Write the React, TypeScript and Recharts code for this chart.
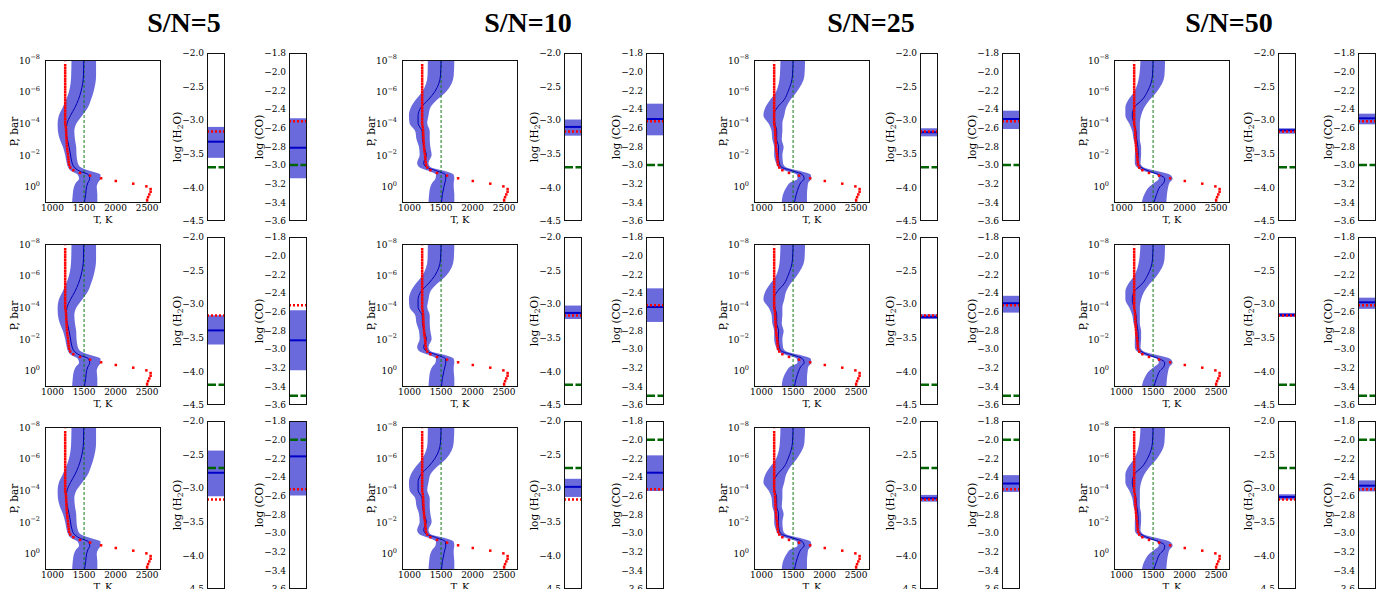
import React from "react";
import { ComposedChart, Area, Line, Scatter, XAxis, YAxis, ReferenceLine } from "recharts";

const SERIF = "'DejaVu Serif', serif";
const BAND = "#6a6adc";

const snLabels = ["S/N=5", "S/N=10", "S/N=25", "S/N=50"];
const titleX = [184, 528, 871, 1229];

// frame positions of the panels (px)
const tpLeft = [45, 402, 754, 1114];
const h2oLeft = [207, 564, 920, 1278];
const coLeft = [289, 646, 1002, 1358];
const tpTop = [60, 244, 427];
const barTop = [53, 237, 421];
const TP_W = 116;
const TP_H = 143;
const BAR_W = 18;
const BAR_H = 168;

// retrieved T-P profiles: log10(P / bar) levels and temperatures (K)
const pLevels = [-8, -7, -6, -5.5, -5, -4.5, -4, -3.5, -3, -2.5, -2, -1.5, -1.25, -1, -0.75, -0.5, -0.25, 0, 0.5, 1.03];

const medT5 = [1495, 1490, 1450, 1410, 1355, 1285, 1230, 1215, 1235, 1262, 1285, 1310, 1340, 1420, 1570, 1590, 1560, 1540, 1525, 1505];
const lowT5 = [1300, 1295, 1260, 1215, 1160, 1100, 1080, 1085, 1115, 1165, 1200, 1225, 1245, 1290, 1400, 1420, 1370, 1340, 1320, 1310];
const highT5 = [1690, 1690, 1650, 1610, 1560, 1470, 1380, 1345, 1355, 1375, 1380, 1400, 1440, 1590, 1760, 1760, 1720, 1700, 1710, 1710];

const medT10 = [1500, 1490, 1400, 1300, 1180, 1135, 1135, 1200, 1205, 1230, 1265, 1225, 1260, 1430, 1570, 1575, 1560, 1545, 1520, 1505];
const lowT10 = [1290, 1285, 1200, 1100, 1020, 990, 1000, 1090, 1110, 1150, 1160, 1120, 1150, 1300, 1420, 1410, 1360, 1330, 1310, 1300];
const highT10 = [1710, 1700, 1580, 1440, 1330, 1300, 1280, 1320, 1320, 1330, 1350, 1300, 1330, 1550, 1700, 1710, 1700, 1700, 1710, 1710];

const medT25 = [1500, 1490, 1420, 1360, 1250, 1190, 1210, 1240, 1240, 1270, 1265, 1280, 1310, 1490, 1650, 1675, 1620, 1590, 1550, 1520];
const lowT25 = [1300, 1290, 1230, 1140, 1060, 1030, 1110, 1160, 1170, 1200, 1200, 1230, 1260, 1380, 1560, 1570, 1450, 1400, 1340, 1320];
const highT25 = [1690, 1680, 1560, 1460, 1390, 1360, 1330, 1330, 1320, 1350, 1330, 1340, 1380, 1600, 1780, 1790, 1740, 1730, 1720, 1720];

const medT50 = [1500, 1490, 1410, 1330, 1200, 1170, 1195, 1230, 1240, 1260, 1265, 1255, 1300, 1420, 1600, 1685, 1670, 1610, 1555, 1510];
const lowT50 = [1300, 1280, 1200, 1110, 1060, 1060, 1120, 1170, 1190, 1220, 1210, 1210, 1240, 1340, 1560, 1590, 1520, 1440, 1360, 1320];
const highT50 = [1690, 1680, 1560, 1450, 1360, 1310, 1290, 1290, 1290, 1310, 1310, 1300, 1340, 1550, 1770, 1810, 1760, 1740, 1720, 1710];

const medT = [medT5, medT10, medT25, medT50];
const lowT = [lowT5, lowT10, lowT25, lowT50];
const highT = [highT5, highT10, highT25, highT50];

// true profile (red squares)
const trueLogP = [
  -8.0, -7.67, -7.5, -7.33, -7.16, -6.99, -6.82, -6.65, -6.48, -6.31, -6.14, -5.97, -5.8, -5.63, -5.46, -5.29,
  -5.12, -4.95, -4.78, -4.61, -4.44, -4.27, -4.1, -3.93, -3.76, -3.59, -3.42, -3.25, -3.08, -2.91, -2.74, -2.57,
  -2.4, -2.23, -2.06, -1.89, -1.72, -1.55, -1.38, -1.21, -1.04, -0.87, -0.7, -0.53, -0.36, -0.19, -0.02, 0.15,
  0.32, 0.49, 0.66, 0.83, 1.0,
];
const trueT = [
  1200, 1200, 1200, 1200, 1200, 1200, 1200, 1200, 1200, 1200, 1200, 1200, 1200, 1200, 1200, 1200,
  1200, 1200, 1200, 1200, 1200, 1200, 1200, 1201, 1210, 1214, 1216, 1218, 1220, 1222, 1226, 1228,
  1232, 1236, 1244, 1248, 1252, 1256, 1262, 1280, 1330, 1435, 1595, 1770, 2003, 2280, 2488, 2555,
  2555, 2535, 2515, 2500, 2500,
];

// abundance panels, rows x columns (log mixing ratio)
const h2oMed = [[-3.32, -3.10, -3.18, -3.15], [-3.39, -3.13, -3.19, -3.16], [-2.77, -2.98, -3.15, -3.13]];
const h2oLow = [[-3.56, -3.23, -3.24, -3.20], [-3.60, -3.22, -3.22, -3.19], [-3.12, -3.13, -3.20, -3.17]];
const h2oHigh = [[-3.10, -2.99, -3.12, -3.12], [-3.165, -3.02, -3.15, -3.13], [-2.44, -2.86, -3.10, -3.09]];
const h2oGuess = [-3.7, -4.2, -2.7];
const H2O_TRUE = -3.17;

const coMed = [[-2.815, -2.507, -2.507, -2.5], [-2.907, -2.55, -2.51, -2.5], [-2.179, -2.354, -2.47, -2.493]];
const coLow = [[-3.143, -2.682, -2.614, -2.564], [-3.229, -2.71, -2.61, -2.57], [-2.597, -2.55, -2.56, -2.554]];
const coHigh = [[-2.5, -2.343, -2.418, -2.45], [-2.586, -2.35, -2.43, -2.45], [-1.8, -2.168, -2.38, -2.436]];
const coGuess = [-3.0, -3.5, -2.0];
const CO_TRUE = -2.53;

const tTicks = [1000, 1500, 2000, 2500];
const pTicks = [-8, -6, -4, -2, 0];
const h2oTicks = [-4.5, -4.0, -3.5, -3.0, -2.5, -2.0];
const coTicks = [-3.6, -3.4, -3.2, -3.0, -2.8, -2.6, -2.4, -2.2, -2.0, -1.8];

const fmt = (v: number) => (v < 0 ? "\u2212" : "") + Math.abs(v).toFixed(1);

const frameStyle = (x: number, y: number, w: number, h: number): React.CSSProperties => ({
  position: "absolute",
  left: x,
  top: y,
  width: w,
  height: h,
  border: "1px solid #111",
  boxSizing: "border-box",
  pointerEvents: "none",
});

function PowTick(props: any) {
  const { x, y, payload } = props;
  const e = Math.round(payload.value);
  const exp = e < 0 ? "\u2212" + Math.abs(e) : String(e);
  return (
    <text x={x} y={y} dy={3.5} textAnchor="end" fontSize={9} fontFamily={SERIF} fill="#000">
      10
      <tspan dy={-4.5} fontSize={6.5}>
        {exp}
      </tspan>
    </text>
  );
}

function VLabel(props: any) {
  const { viewBox, shift, text, sub, tail } = props;
  if (!viewBox) return null;
  const cx = viewBox.x + shift;
  const cy = viewBox.y + viewBox.height / 2;
  return (
    <text
      x={cx}
      y={cy}
      transform={`rotate(-90, ${cx}, ${cy})`}
      textAnchor="middle"
      dy={3.5}
      fontSize={10.5}
      fontFamily={SERIF}
      fill="#000"
    >
      {text}
      {sub ? (
        <>
          <tspan dy={2.5} fontSize={7.5}>
            {sub}
          </tspan>
          <tspan dy={-2.5}>{tail}</tspan>
        </>
      ) : null}
    </text>
  );
}

function HLabel(props: any) {
  const { viewBox, text } = props;
  if (!viewBox) return null;
  return (
    <text
      x={viewBox.x + viewBox.width / 2}
      y={viewBox.y + 20}
      textAnchor="middle"
      fontSize={10}
      fontFamily={SERIF}
      fill="#000"
    >
      {text}
    </text>
  );
}

const RedSquare = (props: any) => {
  const { cx, cy } = props;
  if (cx == null || cy == null) return <g />;
  return <rect x={cx - 1.25} y={cy - 1.25} width={2.5} height={2.5} fill="#ff0000" />;
};

const TP_AX = 40;
const TP_MT = 6;
const TP_MR = 6;
const TP_XH = 26;

function TPPanel({ row, col }: { row: number; col: number }) {
  const data = pLevels.map((lp, i) => ({
    lp,
    med: medT[col][i],
    band: [lowT[col][i], highT[col][i]],
  }));
  const truth = trueLogP.map((lp, i) => ({ lp, T: trueT[i] }));
  return (
    <div style={{ position: "absolute", left: tpLeft[col] - TP_AX, top: tpTop[row] - TP_MT }}>
      <ComposedChart
        layout="vertical"
        width={TP_AX + TP_W + TP_MR}
        height={TP_MT + TP_H + TP_XH}
        data={data}
        margin={{ top: TP_MT, right: TP_MR, bottom: 0, left: 0 }}
      >
        <XAxis
          type="number"
          dataKey="T"
          domain={[880, 2720]}
          allowDataOverflow
          ticks={tTicks}
          interval={0}
          height={TP_XH}
          tickLine={false}
          axisLine={false}
          tickSize={0}
          tickMargin={2}
          tick={{ fontSize: 9, fontFamily: SERIF, fill: "#000" }}
          label={<HLabel text="T, K" />}
        />
        <YAxis
          type="number"
          dataKey="lp"
          domain={[-8, 1.03]}
          allowDataOverflow
          ticks={pTicks}
          interval={0}
          width={TP_AX}
          tickLine={false}
          axisLine={false}
          tickSize={0}
          tickMargin={5}
          tick={(p: any) => <PowTick {...p} />}
          label={<VLabel shift={9} text="P, bar" />}
        />
        <Area
          dataKey="band"
          type="monotone"
          fill={BAND}
          fillOpacity={1}
          stroke="none"
          isAnimationActive={false}
        />
        <ReferenceLine x={1500} stroke="#137a13" strokeWidth={1} strokeDasharray="3 2" />
        <Line
          dataKey="med"
          type="monotone"
          stroke="#0000b0"
          strokeWidth={1}
          dot={false}
          isAnimationActive={false}
        />
        <Scatter data={truth} dataKey="T" shape={RedSquare} isAnimationActive={false} />
      </ComposedChart>
      <div style={frameStyle(TP_AX, TP_MT, TP_W, TP_H)} />
    </div>
  );
}

const BAR_AX = 40;
const BAR_MT = 6;

function BarPanel({ row, col, kind }: { row: number; col: number; kind: "h2o" | "co" }) {
  const isH2O = kind === "h2o";
  const lo = isH2O ? h2oLow[row][col] : coLow[row][col];
  const hi = isH2O ? h2oHigh[row][col] : coHigh[row][col];
  const med = isH2O ? h2oMed[row][col] : coMed[row][col];
  const guess = isH2O ? h2oGuess[row] : coGuess[row];
  const truth = isH2O ? H2O_TRUE : CO_TRUE;
  const data = [0, 1].map((x) => ({ x, band: [lo, hi], med, guess, truth }));
  const left = (isH2O ? h2oLeft : coLeft)[col];
  return (
    <div style={{ position: "absolute", left: left - BAR_AX, top: barTop[row] - BAR_MT }}>
      <ComposedChart
        width={BAR_AX + BAR_W + 2}
        height={BAR_MT * 2 + BAR_H}
        data={data}
        margin={{ top: BAR_MT, right: 2, bottom: BAR_MT, left: 0 }}
      >
        <XAxis type="number" dataKey="x" domain={[0, 1]} hide />
        <YAxis
          type="number"
          domain={isH2O ? [-4.5, -2.0] : [-3.6, -1.8]}
          allowDataOverflow
          ticks={isH2O ? h2oTicks : coTicks}
          interval={0}
          width={BAR_AX}
          tickLine={false}
          axisLine={false}
          tickSize={0}
          tickMargin={3}
          tickFormatter={fmt}
          tick={{ fontSize: 9, fontFamily: SERIF, fill: "#000" }}
          label={
            isH2O ? (
              <VLabel shift={10} text="log (H" sub="2" tail="O)" />
            ) : (
              <VLabel shift={10} text="log (CO)" />
            )
          }
        />
        <Area dataKey="band" type="linear" fill={BAND} fillOpacity={1} stroke="none" isAnimationActive={false} />
        <Line
          dataKey="guess"
          type="linear"
          stroke="#006400"
          strokeWidth={2.5}
          strokeDasharray="9 2.5"
          dot={false}
          isAnimationActive={false}
        />
        <Line dataKey="med" type="linear" stroke="#0000c8" strokeWidth={2} dot={false} isAnimationActive={false} />
        <Line
          dataKey="truth"
          type="linear"
          stroke="#ff0000"
          strokeWidth={2.5}
          strokeDasharray="2 2"
          dot={false}
          isAnimationActive={false}
        />
      </ComposedChart>
      <div style={frameStyle(BAR_AX, BAR_MT, BAR_W, BAR_H)} />
    </div>
  );
}

export default function App() {
  const rows = [0, 1, 2];
  const cols = [0, 1, 2, 3];
  return (
    <div
      style={{
        position: "absolute",
        left: 0,
        top: 0,
        width: 1386,
        height: 589,
        background: "#fff",
        overflow: "hidden",
      }}
    >
      <svg width={1386} height={40} style={{ position: "absolute", left: 0, top: 0 }}>
        {snLabels.map((t, i) => (
          <text
            key={t}
            x={titleX[i]}
            y={32}
            textAnchor="middle"
            fontSize={28}
            fontWeight="bold"
            fontFamily="'Liberation Serif', serif"
            fill="#000"
          >
            {t}
          </text>
        ))}
      </svg>
      {rows.map((r) =>
        cols.map((c) => (
          <React.Fragment key={`${r}-${c}`}>
            <TPPanel row={r} col={c} />
            <BarPanel row={r} col={c} kind="h2o" />
            <BarPanel row={r} col={c} kind="co" />
          </React.Fragment>
        ))
      )}
    </div>
  );
}
